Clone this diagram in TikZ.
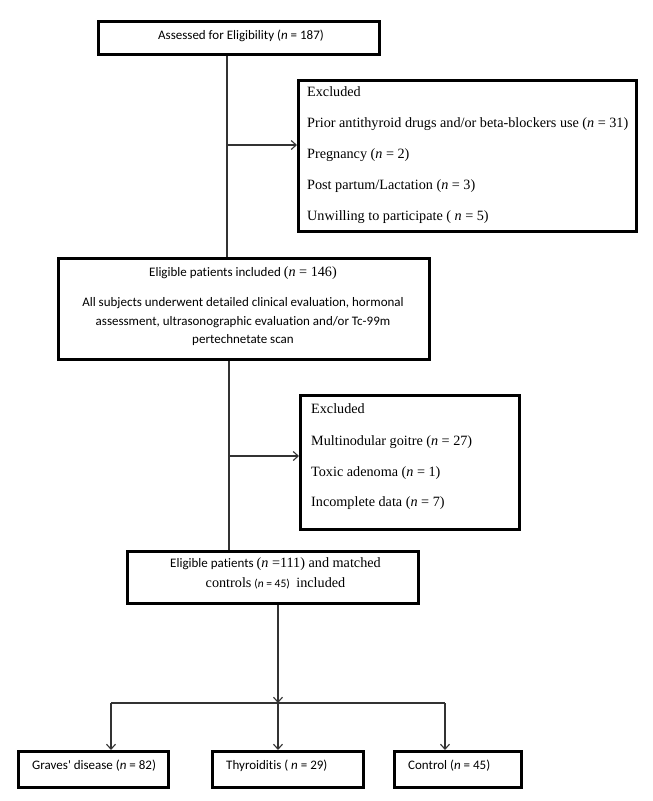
\documentclass[tikz,border=0pt]{standalone}
\usepackage{fontspec}
\setmainfont{Liberation Serif}
\newfontfamily\calf[Ligatures=NoCommon]{Carlito}
\newfontfamily\tnrf{Liberation Serif}
\usetikzlibrary{arrows.meta}
\tikzset{
  x=1pt, y=-1pt,
  boxnode/.style={draw=black, line width=3.2pt, rectangle, inner sep=0pt, anchor=north west},
  conn/.style={draw=black!80, line width=1.1pt},
  arr/.style={conn, -{Straight Barb[length=5pt,width=9pt,line width=1.1pt]}},
  sanst/.style={font=\calf\fontsize{13}{15}\selectfont, inner sep=0pt},
  serift/.style={font=\tnrf\fontsize{14.2}{16}\selectfont, inner sep=0pt, anchor=base west},
}
\begin{document}
\begin{tikzpicture}
\useasboundingbox (0,0) rectangle (653,801);
% boxes
\node[boxnode, minimum width=281pt, minimum height=33pt] (b1) at (97,20) {};
\node[boxnode, minimum width=338pt, minimum height=151pt] (e1) at (297,79) {};
\node[boxnode, minimum width=371pt, minimum height=101pt] (b2) at (57,257) {};
\node[boxnode, minimum width=219pt, minimum height=134pt] (e2) at (299,394) {};
\node[boxnode, minimum width=291pt, minimum height=52pt] (b4) at (126,550) {};
\node[boxnode, minimum width=150pt, minimum height=36pt] (g) at (17,750) {};
\node[boxnode, minimum width=151pt, minimum height=36pt] (t) at (211,750) {};
\node[boxnode, minimum width=127pt, minimum height=36pt] (c) at (393,750) {};
% texts
\node[sanst, anchor=base] (b1t) at (241,39.5) {Assessed for Eligibility (\textit{n} = 187)};
\node[serift] (e1a) at (307,96.5) {Excluded};
\node[serift] (e1b) at (307,127.5) {Prior antithyroid drugs and/or beta-blockers use (\textit{n} = 31)};
\node[serift] (e1c) at (307,158) {Pregnancy (\textit{n} = 2)};
\node[serift] (e1d) at (307,189) {Post partum/Lactation (\textit{n} = 3)};
\node[serift] (e1e) at (307,220) {Unwilling to participate ( \textit{n} = 5)};
\node[sanst, anchor=base] (b2a) at (243,276.5) {Eligible patients included {\tnrf\fontsize{14.2}{16}\selectfont(\textit{n} = 146)}};
\node[sanst, anchor=base] (b2b) at (243,306) {All subjects underwent detailed clinical evaluation, hormonal};
\node[sanst, anchor=base] (b2c) at (243,325) {assessment, ultrasonographic evaluation and/or Tc-99m};
\node[sanst, anchor=base] (b2d) at (243,343.5) {pertechnetate scan};
\node[serift] (e2a) at (311,413.5) {Excluded};
\node[serift] (e2b) at (311,445) {Multinodular goitre (\textit{n} = 27)};
\node[serift] (e2c) at (311,476) {Toxic adenoma (\textit{n} = 1)};
\node[serift] (e2d) at (311,506) {Incomplete data (\textit{n} = 7)};
\node[sanst, anchor=base] (b4a) at (275.5,567.5) {Eligible patients {\tnrf\fontsize{14.2}{16}\selectfont(\textit{n} =111) and matched}};
\node[sanst, anchor=base] (b4b) at (275.5,587.5) {{\tnrf\fontsize{14.2}{16}\selectfont controls} {\fontsize{11.5}{13}\selectfont(\textit{n} = 45)} {\tnrf\fontsize{14.2}{16}\selectfont\ included}};
\node[sanst, anchor=base west] (gt) at (32,769) {Graves' disease (\textit{n} = 82)};
\node[sanst, anchor=base west] (tt) at (226,769) {Thyroiditis ( \textit{n} = 29)};
\node[sanst, anchor=base west] (ct) at (408,769) {Control (\textit{n} = 45)};
% connectors
\coordinate (j1) at (227,145);
\coordinate (j2) at (229,456);
\coordinate (j3) at (278,703);
\coordinate (jl) at (111,703);
\coordinate (jr) at (445,703);
\draw[conn] (b1.south -| j1) -- (b2.north -| j1);
\draw[arr] (j1) -- (e1.west |- j1);
\draw[conn] (b2.south -| j2) -- (b4.north -| j2);
\draw[arr] (j2) -- (e2.west |- j2);
\draw[arr] (b4.south -| j3) -- (j3);
\draw[conn] (jl) -- (jr);
\draw[arr] (jl) -- (g.north -| jl);
\draw[arr] (j3) -- (t.north -| j3);
\draw[arr] (jr) -- (c.north -| jr);
\end{tikzpicture}
\end{document}
